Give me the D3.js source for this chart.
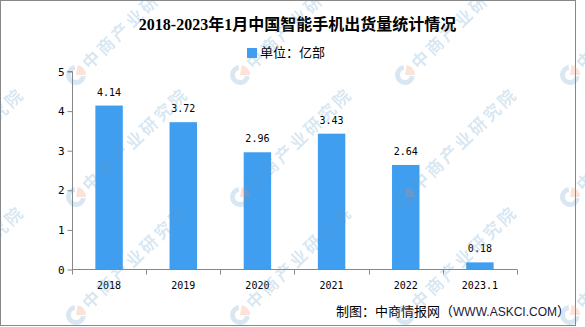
<!DOCTYPE html>
<html>
<head>
<meta charset="utf-8">
<script src="https://cdn.jsdelivr.net/npm/d3@7"></script>
<style>
  html, body { margin: 0; padding: 0; background: #fff; }
  svg { display: block; }
</style>
</head>
<body>
<script>
// Smartphone shipments in China, 2018 – Jan 2023 (unit: 100 million)
const categories = ["2018", "2019", "2020", "2021", "2022", "2023.1"];
const shipments = [4.14, 3.72, 2.96, 3.43, 2.64, 0.18];
const yTicks = [0, 1, 2, 3, 4, 5];

const titleText = "2018-2023年1月中国智能手机出货量统计情况";
const legendText = "单位：亿部";
const sourceText = ["制图：中商情报网（", "WWW.ASKCI.COM", "）"];
const watermarkText = "中商产业研究院";
const watermarkCols = [-88, 76, 240, 405, 570];
const watermarkRows = [75, 197, 315];

const W = 585, H = 327;
const barColor = "#3f9ef0";
const axisColor = "#888888";

const svg = d3.select("body").append("svg")
  .attr("width", W).attr("height", H);

svg.append("rect").attr("width", W).attr("height", H).attr("fill", "#fff");

// outer frame
svg.append("rect")
  .attr("x", 0.5).attr("y", 0.5)
  .attr("width", 575).attr("height", 325)
  .attr("fill", "none").attr("stroke", axisColor).attr("stroke-width", 1);

const plot = { left: 72, right: 517, top: 71.5, bottom: 269.5 };
const pad = 0.63;

const x = d3.scaleBand()
  .domain(categories)
  .range([plot.left, plot.right])
  .paddingInner(pad)
  .paddingOuter(pad / 2);

const y = d3.scaleLinear()
  .domain([0, 5])
  .range([plot.bottom, plot.top]);

// title
svg.append("text")
  .attr("x", 297.5).attr("y", 30)
  .attr("text-anchor", "middle")
  .attr("font-family", "'Liberation Serif', 'Noto Sans CJK SC', serif")
  .attr("font-weight", "bold")
  .attr("font-size", 16)
  .attr("fill", "#000")
  .text(titleText);

// legend
svg.append("rect")
  .attr("x", 247).attr("y", 48)
  .attr("width", 10).attr("height", 10)
  .attr("fill", barColor);
svg.append("text")
  .attr("x", 260).attr("y", 57)
  .attr("font-family", "'Noto Sans CJK SC', sans-serif")
  .attr("font-size", 13)
  .attr("fill", "#000")
  .text(legendText);

// bars
svg.append("g").selectAll("rect")
  .data(shipments)
  .join("rect")
  .attr("x", (d, i) => x(categories[i]))
  .attr("y", d => y(d))
  .attr("width", x.bandwidth())
  .attr("height", d => y(0) - y(d))
  .attr("fill", barColor);

// value labels
svg.append("g").selectAll("text")
  .data(shipments)
  .join("text")
  .attr("x", (d, i) => x(categories[i]) + x.bandwidth() / 2)
  .attr("y", d => y(d) - 10)
  .attr("text-anchor", "middle")
  .attr("font-family", "'DejaVu Sans Mono', monospace")
  .attr("font-size", 10)
  .attr("fill", "#000")
  .text(d => d.toFixed(2));

// y axis
const yAxis = svg.append("g")
  .attr("transform", `translate(${plot.left + 0.5},0)`)
  .call(d3.axisLeft(y).tickValues(yTicks).tickSize(5).tickPadding(3).tickFormat(d3.format("d")));
yAxis.select(".domain").attr("stroke", axisColor).attr("d", `M-5,${plot.top}H0V${plot.bottom}`);
yAxis.selectAll(".tick line").attr("stroke", axisColor);
yAxis.selectAll(".tick text")
  .attr("font-family", "'DejaVu Sans Mono', monospace")
  .attr("font-size", 11)
  .attr("fill", "#000");

// x axis: ticks on category boundaries
const step = x.step();
const boundaries = categories.map(c => x(c) - step * pad / 2).concat([plot.right]);
const xAxis = svg.append("g");
xAxis.append("line")
  .attr("x1", plot.left).attr("x2", plot.right)
  .attr("y1", plot.bottom).attr("y2", plot.bottom)
  .attr("stroke", axisColor);
xAxis.selectAll("line.tick")
  .data(boundaries)
  .join("line")
  .attr("class", "tick")
  .attr("x1", d => Math.round(d) + 0.5).attr("x2", d => Math.round(d) + 0.5)
  .attr("y1", plot.bottom).attr("y2", plot.bottom + 5)
  .attr("stroke", axisColor);
xAxis.selectAll("text")
  .data(categories)
  .join("text")
  .attr("x", d => x(d) + x.bandwidth() / 2)
  .attr("y", 289)
  .attr("text-anchor", "middle")
  .attr("font-family", "'DejaVu Sans Mono', monospace")
  .attr("font-size", 10)
  .attr("fill", "#000")
  .text(d => d);

// source note
const src = svg.append("text")
  .attr("x", 570).attr("y", 316)
  .attr("text-anchor", "end")
  .attr("font-family", "'Noto Sans CJK SC', sans-serif")
  .attr("font-size", 13)
  .attr("fill", "#000");
src.append("tspan").text(sourceText[0]);
src.append("tspan").attr("font-family", "'Liberation Sans', sans-serif").attr("font-size", 12)
  .attr("fill", "#1a1a40").text(sourceText[1]);
src.append("tspan").text(sourceText[2]);

// watermark layer
const wm = svg.append("g").attr("opacity", 0.24);
const marks = [];
watermarkCols.forEach(cx => watermarkRows.forEach(cy => marks.push([cx, cy])));
const mark = wm.selectAll("g").data(marks).join("g")
  .attr("transform", d => `translate(${d[0]},${d[1]})`);
const arc = d3.arc();
mark.append("path")
  .attr("d", arc({ innerRadius: 5, outerRadius: 10, startAngle: Math.PI * 0.55, endAngle: Math.PI * 1.95 }))
  .attr("fill", "#5f9cc8");
mark.append("path")
  .attr("d", arc({ innerRadius: 0, outerRadius: 10, startAngle: Math.PI * 0.05, endAngle: Math.PI * 0.5 }))
  .attr("fill", "#ec8a62");
mark.append("text")
  .attr("transform", "rotate(-44)")
  .attr("x", 13).attr("y", 6)
  .attr("font-family", "'Noto Sans CJK SC', sans-serif")
  .attr("font-weight", "bold")
  .attr("font-size", 17)
  .attr("letter-spacing", 3)
  .attr("fill", "#5f9cc8")
  .text(watermarkText);
</script>
</body>
</html>
